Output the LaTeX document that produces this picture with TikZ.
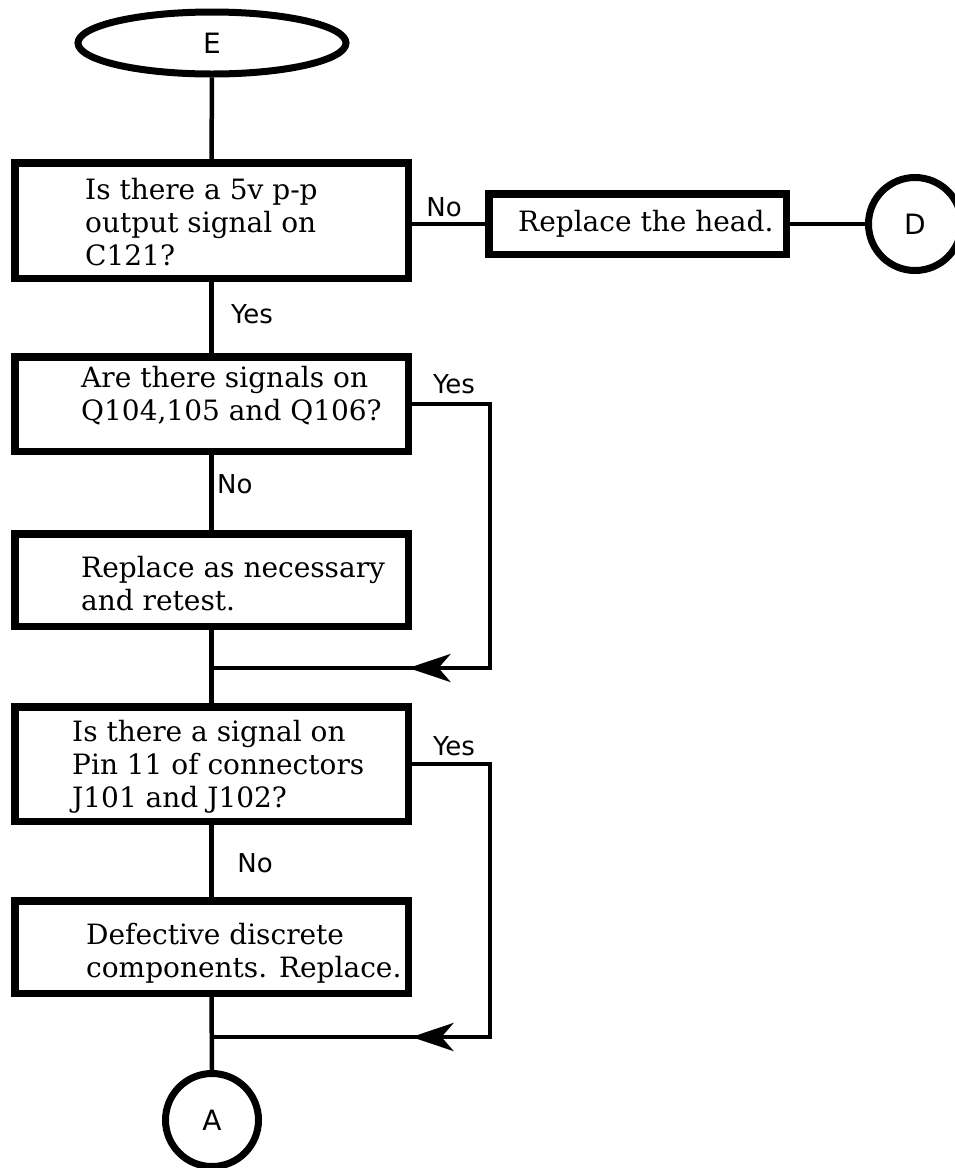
\documentclass[tikz,border=0pt]{standalone}
\usepackage{fontspec}
\setmainfont{DejaVu Serif}
\newfontfamily\lblfont{DejaVu Sans}
\usetikzlibrary{shapes.geometric,arrows.meta,decorations.markings}
\tikzset{
  box/.style={draw, line width=7.5pt, rectangle, minimum width=393.5pt, inner sep=0pt},
  txt/.style={inner sep=0pt, align=left, anchor=west, font=\fontsize{28}{33}\selectfont},
  lbl/.style={inner sep=0pt, font=\lblfont\fontsize{26}{30}\selectfont},
  term/.style={draw, line width=7pt, circle, minimum size=93pt, inner sep=0pt, font=\lblfont\fontsize{28}{30}\selectfont},
  conn/.style={line width=4.5pt},
  loopline/.style={conn, postaction={decorate}, decoration={markings, mark=at position #1 with {\arrow{Stealth[length=42pt,width=28pt,inset=12pt]}}}}
}
\begin{document}
\begin{tikzpicture}[x=1pt,y=-1pt]
\useasboundingbox (0,0) rectangle (955,1168);
% start ellipse
\node[draw, ellipse, line width=7pt, minimum width=268pt, minimum height=62pt, inner sep=0pt, font=\lblfont\fontsize{28}{30}\selectfont] (E) at (212,43) {E};
% boxes
\node[box, minimum height=115.5pt] (b1) at (211.5,220.5) {};
\node[box, minimum width=297.5pt, minimum height=60.5pt] (b2) at (637.5,224) {};
\node[box, minimum height=94.5pt] (b3) at (211.5,404) {};
\node[box, minimum height=92.5pt] (b4) at (211.5,580) {};
\node[box, minimum height=114.5pt] (b5) at (211.5,764) {};
\node[box, minimum height=92.5pt] (b6) at (211.5,947) {};
% texts
\node[txt] (t1) at (85,222) {Is there a 5v p-p\\output signal on\\C121?};
\node[txt] (t2) at (518,224) {Replace the head.};
\node[txt] (t3) at (81,396) {Are there signals on\\Q104,105 and Q106?};
\node[txt] (t4) at (81,584) {Replace as necessary\\and retest.};
\node[txt] (t5) at (72,767) {Is there a signal on\\Pin 11 of connectors\\J101 and J102?};
\node[txt] (t6) at (86,953) {Defective discrete\\components. Replace.};
% terminals
\node[term] (D) at (915,224) {D};
\node[term] (A) at (212,1120) {A};
% junction coordinates
\coordinate (c1) at (490,668);
\coordinate (j1) at (211.5,668);
\coordinate (c2) at (490,1037);
\coordinate (j2) at (211.5,1037);
% connectors
\draw[conn] (E.south) -- (b1.north);
\draw[conn] (b2.west -| b1.east) -- (b2.west);
\draw[conn] (b2.east) -- (D.west);
\draw[conn] (b1.south) -- (b3.north);
\draw[conn] (b3.south) -- (b4.north);
\draw[conn] (b4.south) -- (b5.north);
\draw[conn] (b5.south) -- (b6.north);
\draw[conn] (b6.south) -- (A.north);
\draw[loopline=-197pt] (b3.east) -| (c1) -- (j1);
\draw[loopline=-200pt] (b5.east) -| (c2) -- (j2);
% labels
\node[lbl] (lno1) at (444,207) {No};
\node[lbl] (lyes1) at (252,314) {Yes};
\node[lbl] (lyes2) at (454,384) {Yes};
\node[lbl, anchor=west] (lno2) at (217,484) {No};
\node[lbl] (lyes3) at (454,746) {Yes};
\node[lbl] (lno3) at (255,863) {No};
\end{tikzpicture}
\end{document}
